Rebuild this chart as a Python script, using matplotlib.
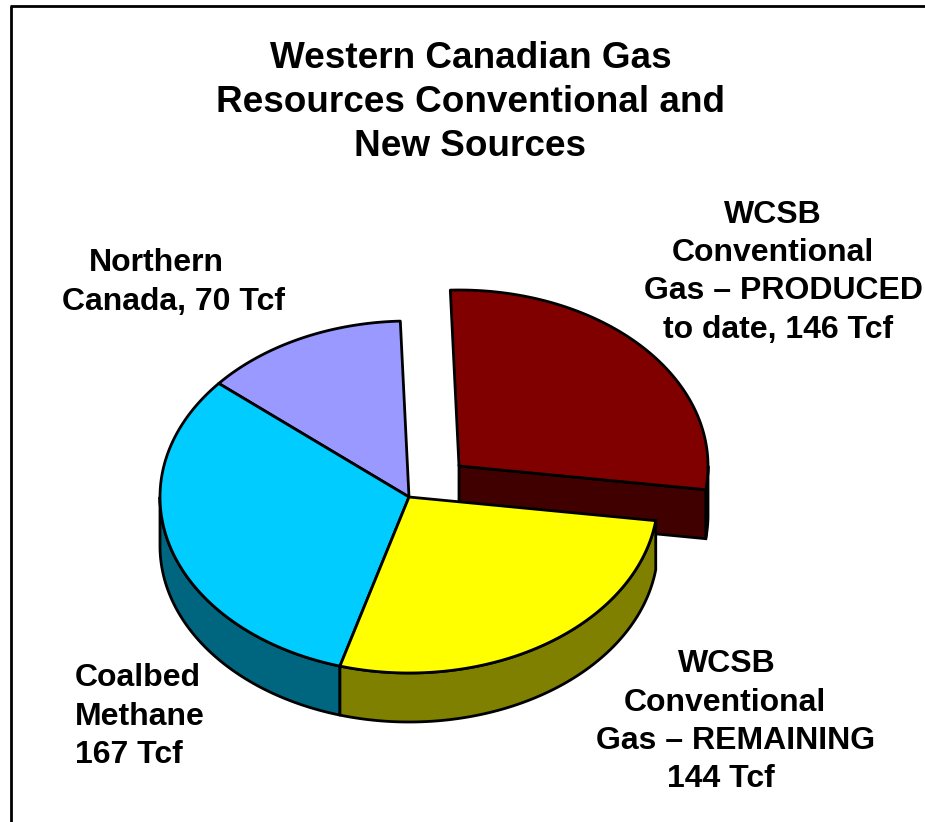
import numpy as np
import matplotlib
matplotlib.use("Agg")
import matplotlib.pyplot as plt

plt.rcParams['font.family'] = ['Liberation Sans', 'DejaVu Sans']

# ---- Data ----
sources = ["Northern Canada", "Coalbed Methane", "WCSB Remaining", "WCSB Produced"]
tcf = [70, 167, 144, 146]
top_colors = ["#9999FF", "#00CCFF", "#FFFF00", "#800000"]
side_colors = ["#4D4D80", "#006680", "#808000", "#400000"]
title_lines = ["Western Canadian Gas", "Resources Conventional and", "New Sources"]
northern_lines = ["Northern", "Canada, 70 Tcf"]
coalbed_lines = ["Coalbed", "Methane", "167 Tcf"]
remaining_lines = ["WCSB", "Conventional", "Gas – REMAINING", "144 Tcf"]
produced_lines = ["WCSB", "Conventional", "Gas – PRODUCED", "to date, 146 Tcf"]

# ---- Pie geometry (pixels) ----
cx, cy = 409, 497
rx, ry = 249, 176
depth = 49
start_angle = 92
explode_dx = [0, 0, 0, 50]
explode_dy = [0, 0, 0, -31]

fig = plt.figure(figsize=(9.25, 8.22), dpi=100)
ax = fig.add_axes([0, 0, 1, 1])
ax.set_xlim(0, 925)
ax.set_ylim(822, 0)
ax.axis("off")


def rim(a0, a1, x0, y0):
    t = np.radians(np.linspace(a0, a1, 150))
    return x0 + rx * np.cos(t), y0 - ry * np.sin(t)


sweeps = np.array(tcf) / sum(tcf) * 360
starts = start_angle + np.concatenate([[0], np.cumsum(sweeps)[:-1]])

# exploded slice goes first, the rest of the pie overlaps it
for i in [3, 0, 1, 2]:
    a0, a1 = starts[i], starts[i] + sweeps[i]
    x0, y0 = cx + explode_dx[i], cy + explode_dy[i]

    # outer wall, only the part facing the viewer
    for lo, hi in [(180, 360), (540, 720)]:
        w0, w1 = max(a0, lo), min(a1, hi)
        if w1 > w0:
            xs, ys = rim(w0, w1, x0, y0)
            ax.fill(np.r_[xs, xs[::-1]], np.r_[ys, ys[::-1] + depth],
                    facecolor=side_colors[i], edgecolor="black", lw=2, joinstyle="round")

    # cut face of the exploded slice
    if explode_dx[i] != 0:
        xs, ys = rim(a0, a0, x0, y0)
        ax.fill([x0, xs[0], xs[0], x0], [y0, ys[0], ys[0] + depth, y0 + depth],
                facecolor=side_colors[i], edgecolor="black", lw=2)

    xs, ys = rim(a0, a1, x0, y0)
    ax.fill(np.r_[x0, xs], np.r_[y0, ys], facecolor=top_colors[i],
            edgecolor="black", lw=2, joinstyle="round")


# ---- Text, line by line since the label lines are not centred on each other ----
def put_lines(lines, xs, ys, size, ha="center"):
    for line, x, y in zip(lines, xs, ys):
        ax.text(x, y, line, ha=ha, va="center", fontsize=size, fontweight="bold")


put_lines(title_lines, [471, 471, 470], [58, 102, 146], 26.6)
put_lines(northern_lines, [156, 174], [263, 302], 23)
put_lines(coalbed_lines, [75, 75, 75], [678, 717, 755], 23, ha="left")
put_lines(remaining_lines, [727, 725, 736, 721], [664, 703, 741, 779], 23)
put_lines(produced_lines, [773, 773, 783, 778], [215, 253, 291, 330], 23)

# ---- Frame, only top and left show ----
ax.plot([11, 11], [822, 6], color="black", lw=2, solid_capstyle="butt")
ax.plot([10, 925], [6, 6], color="black", lw=2, solid_capstyle="butt")

plt.savefig("out.png", dpi=100)
plt.close()
